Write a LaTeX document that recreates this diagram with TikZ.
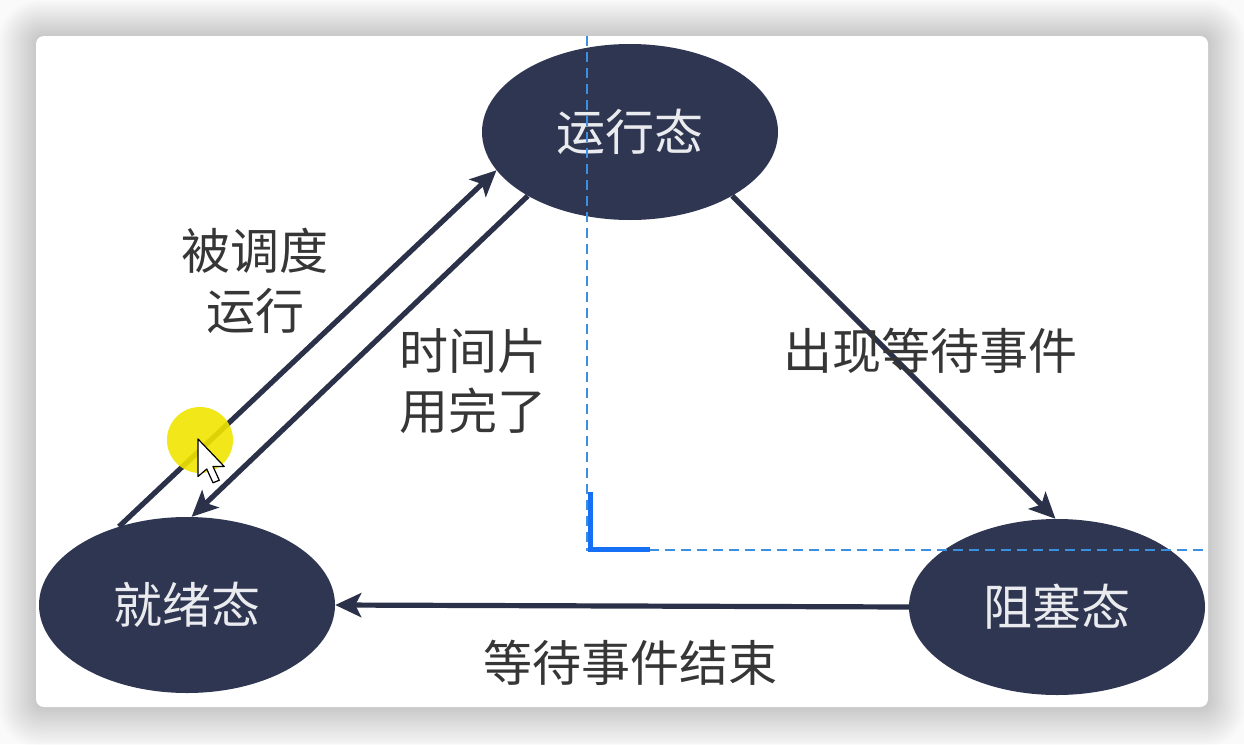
\documentclass[tikz,border=0pt]{standalone}
\usepackage{fontspec}
\setmainfont{Noto Sans CJK SC}
\usetikzlibrary{shapes.geometric,arrows.meta}
\definecolor{navy}{HTML}{2F3652}
\definecolor{arrowc}{HTML}{2B3148}
\definecolor{labelc}{HTML}{363636}
\definecolor{guide}{HTML}{3C8FE0}
\definecolor{markblue}{HTML}{1670F5}
\definecolor{hl}{HTML}{F0E500}
\tikzset{
  state/.style={ellipse, fill=navy, draw=none, minimum width=296pt, minimum height=176pt, inner sep=0pt,
    text=white!90!navy, font=\fontsize{49}{50}\selectfont},
  conn/.style={draw=arrowc, line width=5.2pt, -{Stealth[length=26pt,width=24pt,inset=6pt]}},
  lbl/.style={text=labelc, font=\fontsize{49}{60}\selectfont, inner sep=0pt},
  guideline/.style={draw=guide, line width=1.2pt, dash pattern=on 10pt off 6pt},
}
\begin{document}
\begin{tikzpicture}[x=1pt,y=-1pt]
\useasboundingbox (0,0) rectangle (1244,744);
\fill[white!98!black] (0,0) rectangle (1244,744);
% shadow
\foreach \i in {1,...,16}{
  \fill[black, opacity=0.010, rounded corners=8pt+\i*2pt] (36-\i*2.3,36-\i*2.2) rectangle (1208+\i*2.3,707+\i*2.5);
}
\fill[white, rounded corners=8pt] (36,36) rectangle (1208,707);

% states
\node[state] (run) at (630,132) {运行态};
\node[state] (ready) at (187,605) {就绪态};
\node[state] (block) at (1057,607) {阻塞态};

% connectors
\draw[conn] (ready.131) -- (run.196);
\draw[conn] (run.212) -- (ready.87);
\draw[conn] (run.328) -- (block.91);
\draw[conn] (block.180) -- (ready.east);

% labels
\node[lbl, align=center] (l1) at (255,281) {被调度\\运行};
\node[lbl, align=left] (l2) at (473,381) {时间片\\用完了};
\node[lbl] (l3) at (930,351) {出现等待事件};
\node[lbl] (l4) at (630,663) {等待事件结束};

% guides
\coordinate (g1) at (587,36);
\coordinate (g2) at (587,550);
\coordinate (g3) at (1208,550);
\draw[guideline] (g1) -- (g2) -- (g3);
\draw[markblue, line width=5pt] (590,492) -- (590,549) -- (650,549);

% highlight and cursor
\fill[hl, opacity=0.9] (200,440) circle (33pt);
\begin{scope}[shift={(198,439)}, scale=1.25]
\draw[black, fill=white, line width=1.2pt, line join=round]
  (0,0) -- (0,30) -- (7,24) -- (12,35) -- (17,33) -- (12,22) -- (21,22) -- cycle;
\end{scope}
\end{tikzpicture}
\end{document}
